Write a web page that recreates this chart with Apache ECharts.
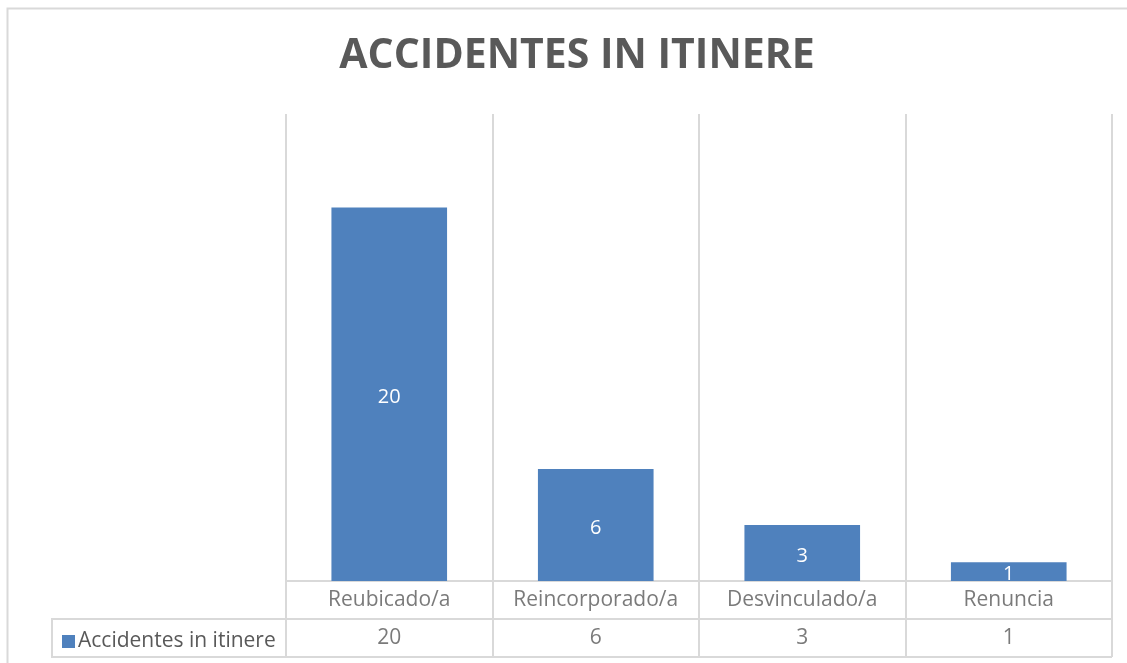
<!DOCTYPE html>
<html>
<head>
<meta charset="utf-8">
<script src="https://cdn.jsdelivr.net/npm/echarts@6/dist/echarts.min.js"></script>
<style>
  html, body { margin: 0; padding: 0; background: #ffffff; }
  #main { width: 1127px; height: 663px; }
</style>
</head>
<body>
<div id="main"></div>
<script>
const categories = ['Reubicado/a', 'Reincorporado/a', 'Desvinculado/a', 'Renuncia'];
const seriesName = 'Accidentes in itinere';
const values = [20, 6, 3, 1];

const textColor = '#595959';
const lineColor = '#d9d9d9';
const barColor = '#4f81bd';
const font = '"Open Sans", "Noto Sans", sans-serif';

// celdas de la tabla de datos: fila de nombres y fila de valores
const tableCells = [];
categories.forEach((c, i) => {
  tableCells.push({ value: [c, 'n'], text: c });
  tableCells.push({ value: [c, 'v'], text: String(values[i]) });
});

const chart = echarts.init(document.getElementById('main'));
const option = {
  backgroundColor: '#ffffff',
  animation: false,
  title: {
    text: 'ACCIDENTES IN ITINERE',
    left: 572,
    textAlign: 'center',
    top: 31,
    textStyle: { fontFamily: font, fontWeight: 'bold', fontSize: 41, color: textColor }
  },
  legend: {
    left: 57,
    top: 626,
    data: [seriesName],
    icon: 'rect',
    itemWidth: 13,
    itemHeight: 13,
    itemGap: 6,
    textStyle: { fontFamily: font, fontSize: 21, color: textColor, padding: [0, 0, 0, -2] }
  },
  graphic: [
    { type: 'rect', shape: { x: 7.5, y: 8.5, width: 1140, height: 680 }, style: { fill: null, stroke: lineColor, lineWidth: 2 }, silent: true },
    { type: 'rect', shape: { x: 52, y: 619, width: 234, height: 38 }, style: { fill: null, stroke: lineColor, lineWidth: 2 }, silent: true }
  ],
  grid: [
    { left: 286, right: 15, top: 114, height: 467 },
    { left: 286, right: 15, top: 581, height: 76 }
  ],
  xAxis: [
    {
      gridIndex: 0, type: 'category', data: categories,
      axisLine: { show: true, lineStyle: { color: lineColor, width: 2 } },
      axisTick: { show: false }, axisLabel: { show: false },
      splitLine: { show: true, lineStyle: { color: lineColor, width: 2 } }
    },
    {
      gridIndex: 1, type: 'category', data: categories,
      axisLine: { show: false }, axisTick: { show: false }, axisLabel: { show: false },
      splitLine: { show: true, lineStyle: { color: lineColor, width: 2 } }
    }
  ],
  yAxis: [
    { gridIndex: 0, type: 'value', min: 0, max: 25, show: false, splitLine: { show: false } },
    {
      gridIndex: 1, type: 'category', data: ['n', 'v'], inverse: true,
      axisLine: { show: false }, axisTick: { show: false }, axisLabel: { show: false },
      splitLine: { show: true, lineStyle: { color: lineColor, width: 2 } }
    }
  ],
  series: [
    {
      name: seriesName, type: 'bar', xAxisIndex: 0, yAxisIndex: 0,
      data: values, barWidth: '56%',
      itemStyle: { color: barColor },
      label: { show: true, position: 'inside', offset: [0, 3], color: '#ffffff', fontFamily: font, fontSize: 20 }
    },
    {
      type: 'scatter', xAxisIndex: 1, yAxisIndex: 1, symbolSize: 0,
      data: tableCells, silent: true,
      label: {
        show: true, position: 'inside', color: textColor, fontFamily: font, fontSize: 21,
        formatter: p => p.data.text
      }
    }
  ]
};
chart.setOption(option);
</script>
</body>
</html>
